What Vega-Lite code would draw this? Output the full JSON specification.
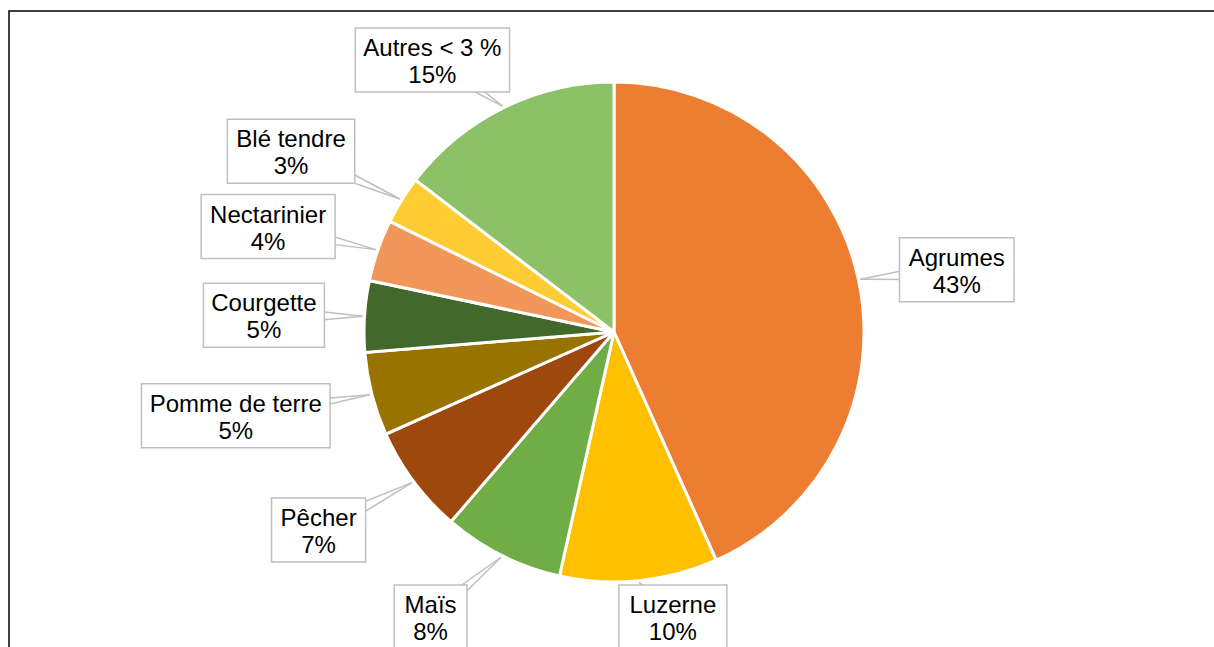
{
  "$schema": "https://vega.github.io/schema/vega-lite/v6.json",
  "width": 1205,
  "height": 636,
  "autosize": {"type": "none"},
  "padding": {"left": 9, "top": 11, "right": 0, "bottom": 0},
  "background": "white",
  "config": {
    "view": {"stroke": "black", "strokeWidth": 1.5, "strokeDash": [1205, 1841, 636]},
    "text": {"font": "Liberation Sans", "fontSize": 24, "fill": "#000000"}
  },
  "data": {
    "values": [
      {"crop": "Agrumes", "share": 0.433},
      {"crop": "Luzerne", "share": 0.102},
      {"crop": "Maïs", "share": 0.078},
      {"crop": "Pêcher", "share": 0.070},
      {"crop": "Pomme de terre", "share": 0.054},
      {"crop": "Courgette", "share": 0.046},
      {"crop": "Nectarinier", "share": 0.040},
      {"crop": "Blé tendre", "share": 0.031},
      {"crop": "Autres < 3 %", "share": 0.146}
    ]
  },
  "transform": [
    {"window": [{"op": "sum", "field": "share", "as": "cum"}, {"op": "row_number", "as": "idx"}], "frame": [null, 0]},
    {"joinaggregate": [{"op": "sum", "field": "share", "as": "total"}]},
    {"calculate": "2*PI*(datum.cum - datum.share/2)/datum.total", "as": "mid"},
    {"calculate": "sin(datum.mid)", "as": "s"},
    {"calculate": "cos(datum.mid)", "as": "c"},
    {"calculate": "24*(0.58*length(datum.crop) - 0.31*length(replace(datum.crop, regexp('[^iltrfjï ]', 'g'), '')) + 0.27*length(replace(datum.crop, regexp('[^mMw%]', 'g'), ''))) + 18", "as": "w"},
    {"calculate": "290 + min(datum.w/2/max(abs(datum.s), 0.01), 40/max(abs(datum.c), 0.01))", "as": "r"},
    {"calculate": "datum.r*(datum.s < 0 ? -1 : 1)*pow(abs(datum.s), 0.75)", "as": "lx"},
    {"calculate": "clamp(datum.r*(datum.c < 0 ? -1 : 1)*pow(abs(datum.c), 1.1), -285, 272)", "as": "ly"},
    {"calculate": "252*datum.s", "as": "tx"},
    {"calculate": "252*datum.c", "as": "ty"},
    {"calculate": "datum.lx - datum.w/2", "as": "bx1"},
    {"calculate": "datum.lx + datum.w/2", "as": "bx2"},
    {"calculate": "datum.ly - 32", "as": "by1"},
    {"calculate": "datum.ly + 32", "as": "by2"},
    {"calculate": "datum.ly + 10", "as": "lyA"},
    {"calculate": "datum.ly - 10", "as": "lyB"}
  ],
  "layer": [
    {
      "mark": {"type": "arc", "outerRadius": 250, "stroke": "white", "strokeWidth": 3, "x": {"expr": "scale('x', 0)"}, "y": {"expr": "scale('y', 0)"}},
      "encoding": {
        "theta": {"field": "share", "type": "quantitative", "stack": true},
        "order": {"field": "idx", "type": "quantitative"},
        "color": {
          "field": "crop",
          "type": "nominal",
          "legend": null,
          "scale": {
            "domain": ["Agrumes", "Luzerne", "Maïs", "Pêcher", "Pomme de terre", "Courgette", "Nectarinier", "Blé tendre", "Autres < 3 %"],
            "range": ["#ED7D31", "#FFC000", "#70AD47", "#9E480E", "#997300", "#43682B", "#F1975A", "#FFCD33", "#8CC168"]
          }
        }
      }
    },
    {
      "mark": {"type": "rule", "stroke": "#BFBFBF", "strokeWidth": 1.5},
      "encoding": {
        "x": {"field": "tx", "type": "quantitative", "axis": null, "scale": {"domain": [-605, 600], "nice": false, "zero": false}},
        "y": {"field": "ty", "type": "quantitative", "axis": null, "scale": {"domain": [-315, 321], "nice": false, "zero": false}},
        "x2": {"field": "lx"},
        "y2": {"field": "lyA"}
      }
    },
    {
      "mark": {"type": "rule", "stroke": "#BFBFBF", "strokeWidth": 1.5},
      "encoding": {
        "x": {"field": "tx", "type": "quantitative", "axis": null, "scale": {"domain": [-605, 600], "nice": false, "zero": false}},
        "y": {"field": "ty", "type": "quantitative", "axis": null, "scale": {"domain": [-315, 321], "nice": false, "zero": false}},
        "x2": {"field": "lx"},
        "y2": {"field": "lyB"}
      }
    },
    {
      "mark": {"type": "rect", "fill": "white", "stroke": "#BFBFBF", "strokeWidth": 1.5},
      "encoding": {
        "x": {"field": "bx1", "type": "quantitative", "axis": null, "scale": {"domain": [-605, 600], "nice": false, "zero": false}},
        "x2": {"field": "bx2"},
        "y": {"field": "by1", "type": "quantitative", "axis": null, "scale": {"domain": [-315, 321], "nice": false, "zero": false}},
        "y2": {"field": "by2"}
      }
    },
    {
      "mark": {"type": "text", "align": "center", "baseline": "alphabetic", "dy": -4},
      "encoding": {
        "x": {"field": "lx", "type": "quantitative", "axis": null, "scale": {"domain": [-605, 600], "nice": false, "zero": false}},
        "y": {"field": "ly", "type": "quantitative", "axis": null, "scale": {"domain": [-315, 321], "nice": false, "zero": false}},
        "text": {"field": "crop", "type": "nominal"}
      }
    },
    {
      "mark": {"type": "text", "align": "center", "baseline": "alphabetic", "dy": 23},
      "encoding": {
        "x": {"field": "lx", "type": "quantitative", "axis": null, "scale": {"domain": [-605, 600], "nice": false, "zero": false}},
        "y": {"field": "ly", "type": "quantitative", "axis": null, "scale": {"domain": [-315, 321], "nice": false, "zero": false}},
        "text": {"field": "share", "type": "quantitative", "format": ".0%"}
      }
    }
  ]
}
